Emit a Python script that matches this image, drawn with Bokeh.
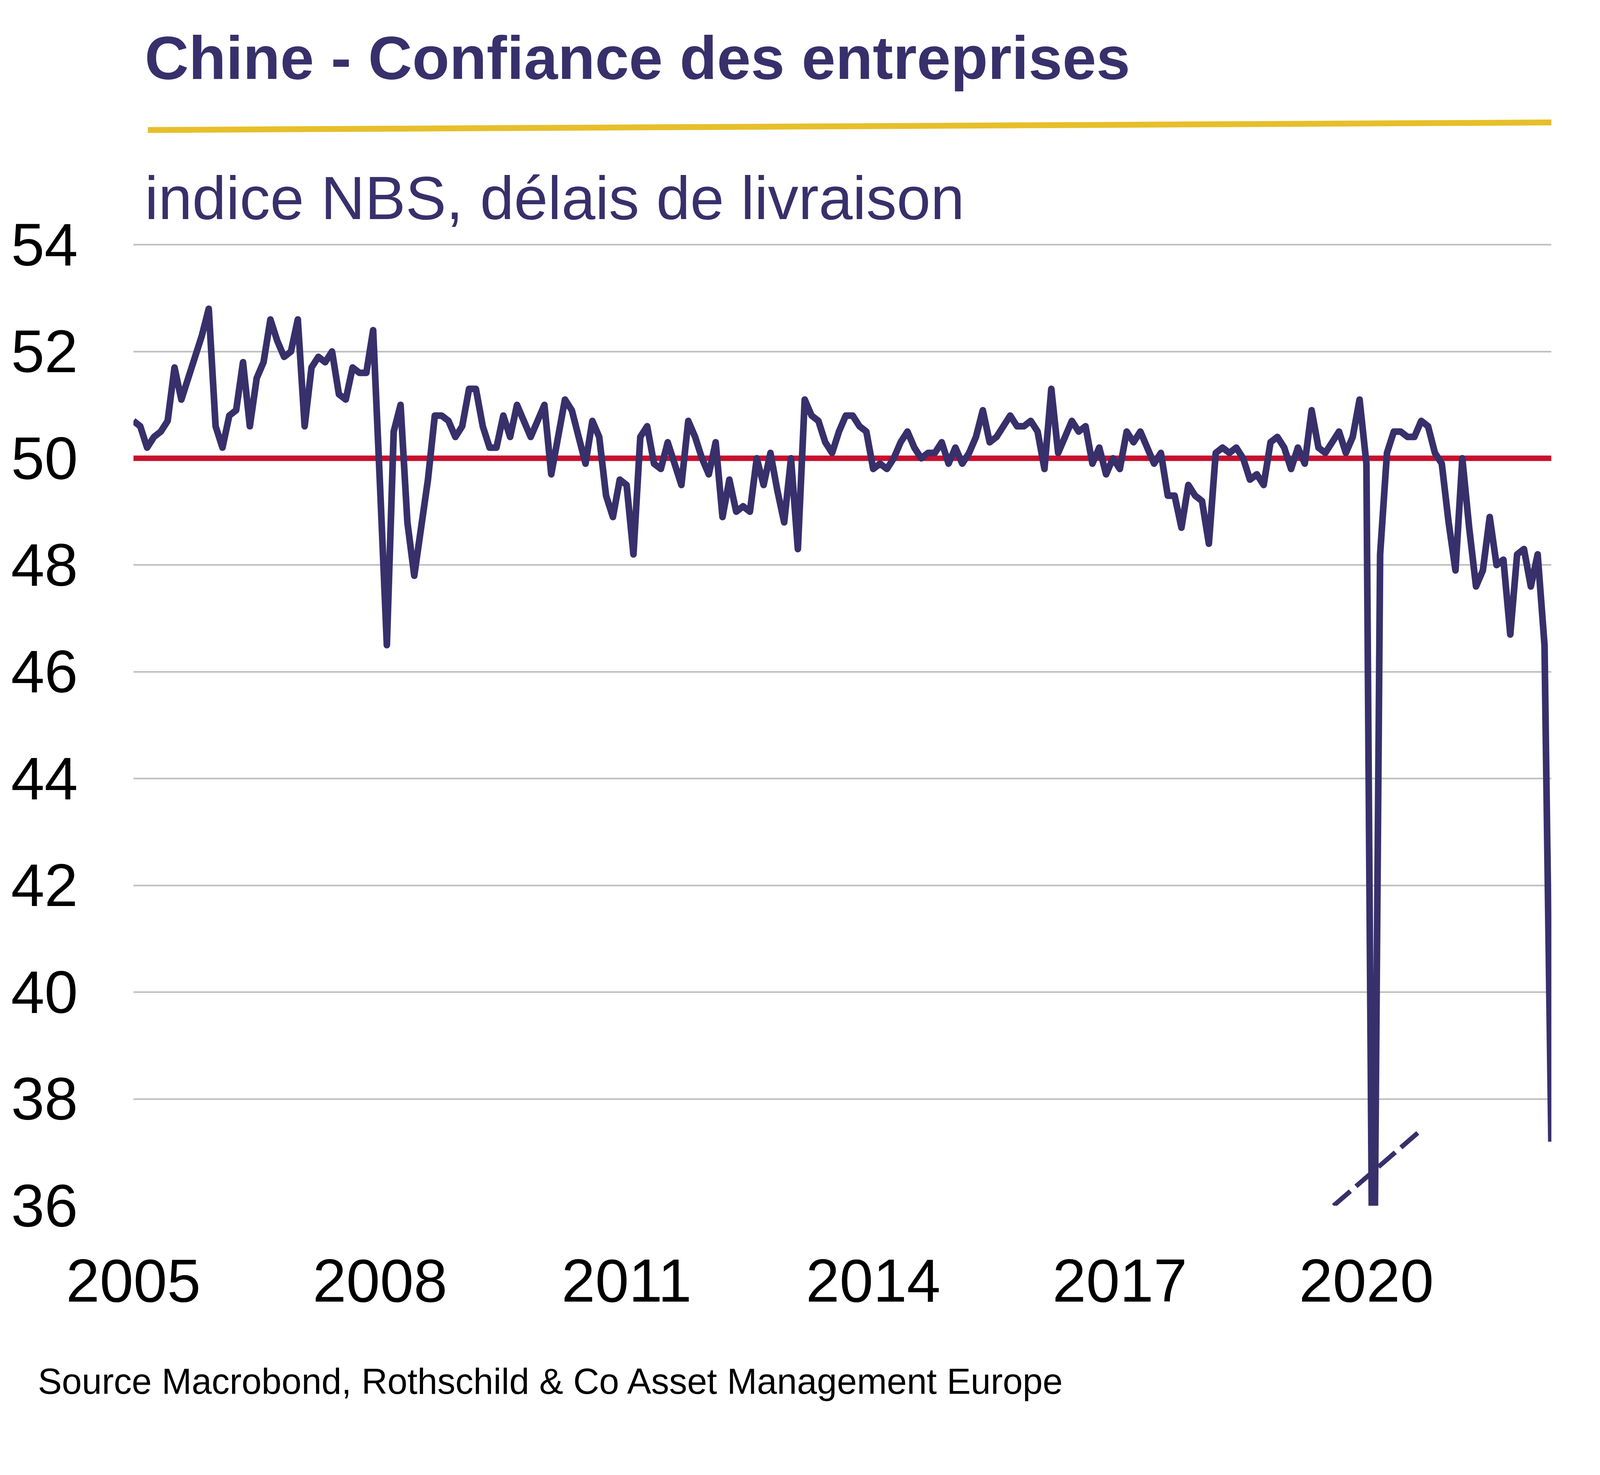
from bokeh.plotting import figure
from bokeh.models import Range1d, FixedTicker, Span, LinearAxis
from bokeh.core.properties import value
from bokeh.embed import file_html
from bokeh.resources import INLINE

# ---------------- data (monthly, Jan 2005 -> Apr 2022) ----------------
title_text = "Chine - Confiance des entreprises"
subtitle_text = "indice NBS, délais de livraison"
source_text = "Source Macrobond, Rothschild & Co Asset Management Europe"

first_year = 2005
v2005 = [50.7, 50.6, 50.2, 50.4, 50.5, 50.7, 51.7, 51.1, 51.5, 51.9, 52.3, 52.8]
v2006 = [50.6, 50.2, 50.8, 50.9, 51.8, 50.6, 51.5, 51.8, 52.6, 52.2, 51.9, 52.0]
v2007 = [52.6, 50.6, 51.7, 51.9, 51.8, 52.0, 51.2, 51.1, 51.7, 51.6, 51.6, 52.4]
v2008 = [49.5, 46.5, 50.5, 51.0, 48.8, 47.8, 48.7, 49.6, 50.8, 50.8, 50.7, 50.4]
v2009 = [50.6, 51.3, 51.3, 50.6, 50.2, 50.2, 50.8, 50.4, 51.0, 50.7, 50.4, 50.7]
v2010 = [51.0, 49.7, 50.4, 51.1, 50.9, 50.4, 49.9, 50.7, 50.4, 49.3, 48.9, 49.6]
v2011 = [49.5, 48.2, 50.4, 50.6, 49.9, 49.8, 50.3, 49.9, 49.5, 50.7, 50.4, 50.0]
v2012 = [49.7, 50.3, 48.9, 49.6, 49.0, 49.1, 49.0, 50.0, 49.5, 50.1, 49.4, 48.8]
v2013 = [50.0, 48.3, 51.1, 50.8, 50.7, 50.3, 50.1, 50.5, 50.8, 50.8, 50.6, 50.5]
v2014 = [49.8, 49.9, 49.8, 50.0, 50.3, 50.5, 50.2, 50.0, 50.1, 50.1, 50.3, 49.9]
v2015 = [50.2, 49.9, 50.1, 50.4, 50.9, 50.3, 50.4, 50.6, 50.8, 50.6, 50.6, 50.7]
v2016 = [50.5, 49.8, 51.3, 50.1, 50.4, 50.7, 50.5, 50.6, 49.9, 50.2, 49.7, 50.0]
v2017 = [49.8, 50.5, 50.3, 50.5, 50.2, 49.9, 50.1, 49.3, 49.3, 48.7, 49.5, 49.3]
v2018 = [49.2, 48.4, 50.1, 50.2, 50.1, 50.2, 50.0, 49.6, 49.7, 49.5, 50.3, 50.4]
v2019 = [50.2, 49.8, 50.2, 49.9, 50.9, 50.2, 50.1, 50.3, 50.5, 50.1, 50.4, 51.1]
v2020 = [49.9, 32.1, 48.2, 50.1, 50.5, 50.5, 50.4, 50.4, 50.7, 50.6, 50.1, 49.9]
v2021 = [48.8, 47.9, 50.0, 48.7, 47.6, 47.9, 48.9, 48.0, 48.1, 46.7, 48.2, 48.3]
v2022 = [47.6, 48.2, 46.5, 37.2]

series = (v2005 + v2006 + v2007 + v2008 + v2009 + v2010 + v2011 + v2012 + v2013
          + v2014 + v2015 + v2016 + v2017 + v2018 + v2019 + v2020 + v2021 + v2022)
months = list(range(len(series)))          # month index since Jan 2005

year_ticks = [2005, 2008, 2011, 2014, 2017, 2020]
y_ticks = [36, 38, 40, 42, 44, 46, 48, 50, 52, 54]
y_min, y_max = 36, 54
threshold = 50

# axis-break marker (dashed stroke showing the truncated Feb-2020 value)
break_x = [175.2, 188.0]
break_y = [36.0, 37.42]

# ---------------- styles / geometry ----------------
NAVY = "#37306B"
RED = "#C8102E"
YELLOW = "#E6BF2A"
GRID = "#BDBDBD"
FONT = "Liberation Sans"

K = 1 / 1.028                 # compensation: page is photographed slightly magnified
M = 8                         # page margin (css px)
SHIFT_L = 9                   # small empirical shift of the frame's left edge
REF_W, REF_H = 4224, 3777
# reference-pixel geometry of the data area
FL, FR, FT, FB = 350, 4090, 652, 3182
x0, x1 = 0, len(series) - 1
px_per_x = (FR - FL) / (x1 - x0)
px_per_y = (FB - FT) / (y_max - y_min)


def to_data(px, py):
    return x0 + (px - FL) / px_per_x, y_min + (FB - py) / px_per_y


def css(v):
    return int(round(v * K))


W = css(REF_W) - 2 * M
H = css(REF_H) - 2 * M
left = css(FL) - M + SHIFT_L
frame_w = css(FR) - css(FL) - SHIFT_L
frame_h = css(FB) - M
right = W - left - frame_w
bottom = H - frame_h

# frame reaches the top of the canvas so header texts live inside it
y_top = to_data(0, M / K)[1]

p = figure(frame_width=frame_w, frame_height=frame_h,
           x_range=Range1d(x0, x1), y_range=Range1d(y_min, y_top),
           toolbar_location=None, output_backend="svg",
           min_border_left=left, min_border_right=right,
           min_border_top=0, min_border_bottom=bottom,
           outline_line_color=None, background_fill_color="white",
           border_fill_color="white")

tick_pos = [(y - first_year) * 12 for y in year_ticks]
p.xaxis.ticker = FixedTicker(ticks=tick_pos)
p.xaxis.major_label_overrides = {t: str(y) for t, y in zip(tick_pos, year_ticks)}
p.yaxis.ticker = FixedTicker(ticks=y_ticks)

for ax in (p.xaxis, p.yaxis):
    ax.axis_line_color = None
    ax.major_tick_line_color = None
    ax.minor_tick_line_color = None
    ax.major_tick_in = 0
    ax.major_tick_out = 0
    ax.major_label_text_font = FONT
    ax.major_label_text_color = "#000000"
p.xaxis.major_label_text_font_size = "155px"
p.yaxis.major_label_text_font_size = "154px"
p.xaxis.major_label_standoff = 137
p.yaxis.major_label_standoff = 142

# source line rendered as the single label of a second bottom axis
src_tick = 61
src_axis = LinearAxis(ticker=FixedTicker(ticks=[src_tick]),
                      major_label_overrides={src_tick: source_text},
                      axis_line_color=None, major_tick_line_color=None,
                      minor_tick_line_color=None, major_tick_in=0, major_tick_out=0,
                      major_label_text_font=FONT, major_label_text_font_size="92px",
                      major_label_text_color="#000000", major_label_standoff=150)
p.add_layout(src_axis, "below")

p.xgrid.visible = False
p.ygrid.grid_line_color = GRID
p.ygrid.grid_line_width = 4

p.add_layout(Span(location=threshold, dimension="width", line_color=RED,
                  line_width=14, level="underlay"))

p.line(months, series, line_color=NAVY, line_width=17, line_join="round")
p.line(break_x, break_y, line_color=NAVY, line_width=12, line_dash="57 19")

# header: title, yellow rule, subtitle (baselines compensated for text placement)
tx, ty = to_data(380, 160)
p.text(x=[tx], y=[ty], text=[title_text], text_font=value(FONT), text_font_style="bold",
       text_font_size="156px", text_color=NAVY, text_baseline="alphabetic",
       text_align="left")
ax0, ay0 = to_data(388, 350)
ax1, ay1 = to_data(4103, 330)
p.segment(x0=[ax0], y0=[ay0], x1=[ax1], y1=[ay1], line_color=YELLOW, line_width=15,
          line_cap="butt")
sx, sy = to_data(380, 529)
p.text(x=[sx], y=[sy], text=[subtitle_text], text_font=value(FONT), text_font_size="156px",
       text_color=NAVY, text_baseline="alphabetic", text_align="left")

open("out.html", "w").write(file_html(p, INLINE))
